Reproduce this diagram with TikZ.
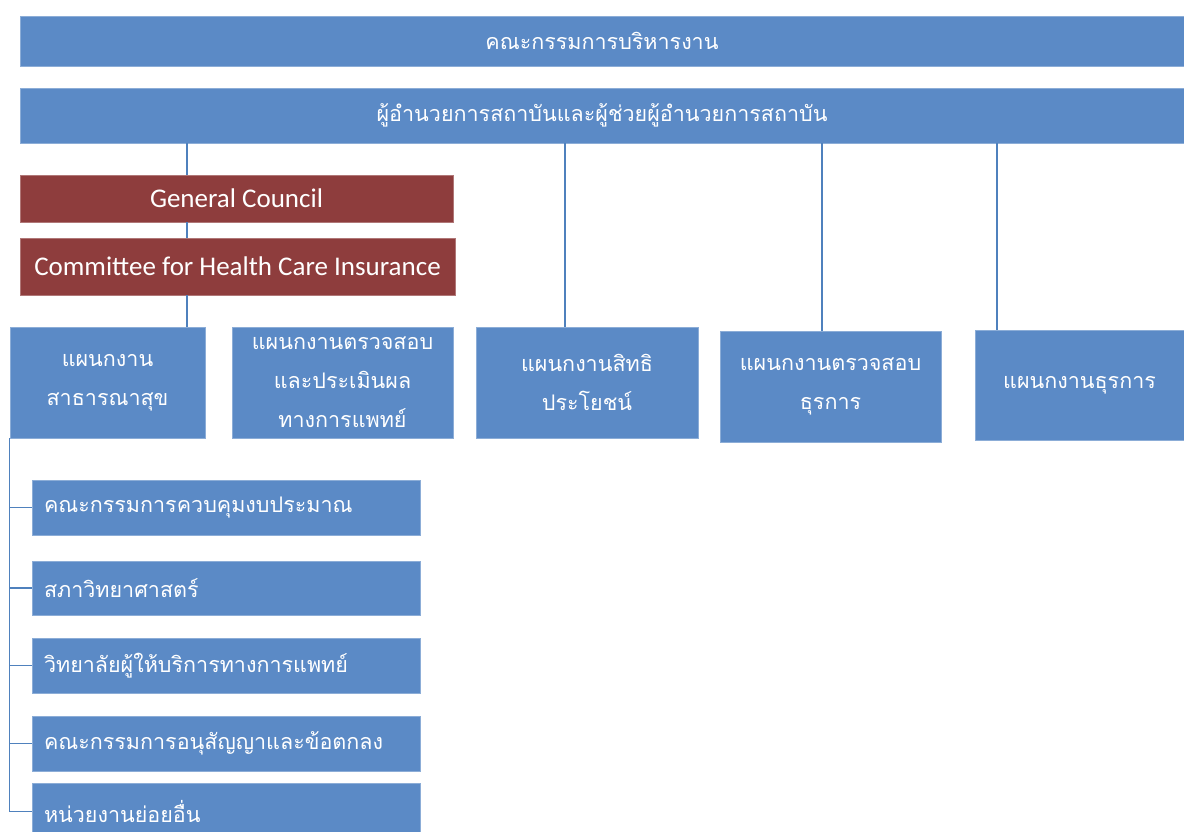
\documentclass[tikz,border=0pt]{standalone}
\usepackage{fontspec}
\setmainfont{Carlito}
\newfontfamily\thaifont[Script=Thai]{Loma}
\usetikzlibrary{calc}
\definecolor{unitblue}{RGB}{91,138,198}
\definecolor{councilred}{RGB}{142,61,61}
\definecolor{linkblue}{RGB}{79,129,189}

\begin{document}
\begin{tikzpicture}[x=1pt, y=-1pt,
    unit/.style={rectangle, fill=unitblue, draw=unitblue!70!white, line width=0.8pt, text=white, inner sep=0pt, align=center, font=\thaifont\fontsize{21.5}{39}\selectfont},
    council/.style={rectangle, fill=councilred, draw=councilred!70!white, line width=0.8pt, text=white, inner sep=0pt, font=\fontsize{27}{30}\selectfont},
    subunit/.style={unit, minimum width=388pt, text width=364pt, align=left},
    link/.style={draw=linkblue, line width=1.6pt}]
  \useasboundingbox (0,0) rectangle (1184,832);
  \clip (0,0) rectangle (1184,832);

  \node[unit, minimum width=1164pt, minimum height=50pt] (board) at (602,41) {คณะกรรมการบริหารงาน};
  \node[unit, minimum width=1164pt, minimum height=55pt] (director) at (602,115.5) {ผู้อำนวยการสถาบันและผู้ช่วยผู้อำนวยการสถาบัน};

  \node[council, minimum width=433pt, minimum height=47pt] (gc) at (236.5,198.5) {General Council};
  \node[council, minimum width=435pt, minimum height=57pt] (chi) at (237.5,266.5) {Committee for Health Care Insurance};

  \node[unit, minimum width=195pt, minimum height=111pt] (pub) at (107.5,382.5) {แผนกงาน\\สาธารณาสุข};
  \node[unit, minimum width=221pt, minimum height=111pt] (med) at (342.5,382.5) {แผนกงานตรวจสอบ\\และประเมินผล\\ทางการแพทย์};
  \node[unit, minimum width=222pt, minimum height=111pt] (ben) at (587,382.5) {แผนกงานสิทธิ\\ประโยชน์};
  \node[unit, minimum width=221pt, minimum height=111pt] (aud) at (830.5,386.5) {แผนกงานตรวจสอบ\\ธุรการ};
  \node[unit, minimum width=209pt, minimum height=110pt] (adm) at (1079.5,385) {แผนกงานธุรการ};

  \node[subunit, minimum height=55pt] (sub1) at (226,507.5) {คณะกรรมการควบคุมงบประมาณ};
  \node[subunit, minimum height=54pt] (sub2) at (226,588) {สภาวิทยาศาสตร์};
  \node[subunit, minimum height=55pt] (sub3) at (226,665.5) {วิทยาลัยผู้ให้บริการทางการแพทย์};
  \node[subunit, minimum height=55pt] (sub4) at (226,743.5) {คณะกรรมการอนุสัญญาและข้อตกลง};
  \node[subunit, minimum height=57pt] (sub5) at (226,811.5) {หน่วยงานย่อยอื่น};

  \coordinate (trunk) at (187,0);
  \draw[link] (director.south -| trunk) -- (gc.north -| trunk);
  \draw[link] (gc.south -| trunk) -- (chi.north -| trunk);
  \draw[link] (chi.south -| trunk) -- (pub.north -| trunk);
  \foreach \n/\dx in {ben/-22, aud/-8.5, adm/-82.5}
    \draw[link] ([xshift=\dx pt]\n.north) -- ([xshift=\dx pt]\n.north |- director.south);

  \draw[link] (pub.south west) |- (sub5.west);
  \foreach \i in {1,...,4}
    \draw[link] (pub.south west |- sub\i.west) -- (sub\i.west);
\end{tikzpicture}
\end{document}
